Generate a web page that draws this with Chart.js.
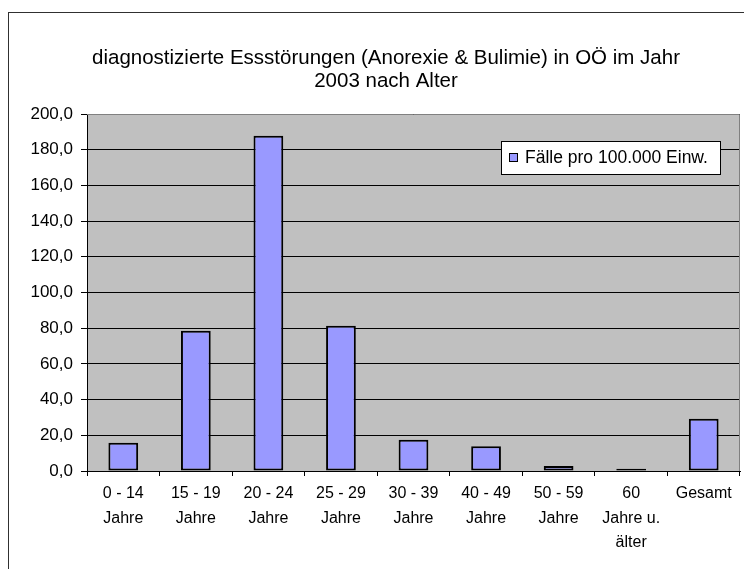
<!DOCTYPE html>
<html>
<head>
<meta charset="utf-8">
<script src="https://cdn.jsdelivr.net/npm/chart.js@4"></script>
<style>
  body { margin: 0; background: #fff; }
  canvas { display: block; }
</style>
</head>
<body>
<canvas id="essChart" width="744" height="569"></canvas>
<script>
const categories = [
    ['0 - 14', 'Jahre'],
    ['15 - 19', 'Jahre'],
    ['20 - 24', 'Jahre'],
    ['25 - 29', 'Jahre'],
    ['30 - 39', 'Jahre'],
    ['40 - 49', 'Jahre'],
    ['50 - 59', 'Jahre'],
    ['60', 'Jahre u.', 'älter'],
    'Gesamt'
];
const faelle = [15.8, 78.6, 187.8, 81.4, 17.5, 13.8, 2.8, 1.2, 29.3];
const seriesName = 'Fälle pro 100.000 Einw.';
const titleLines = ['diagnostizierte Essstörungen (Anorexie & Bulimie) in OÖ im Jahr', '2003 nach Alter'];

const FONT = '"Liberation Sans", Arial, sans-serif';

// grey plot area, outer frame, title and legend box
const decor = {
    id: 'decor',
    beforeDraw(chart) {
        const ctx = chart.ctx;
        const a = chart.chartArea;
        ctx.save();
        ctx.fillStyle = '#c0c0c0';
        ctx.fillRect(a.left, a.top, a.right - a.left, a.bottom - a.top);
        ctx.restore();
    },
    afterDraw(chart) {
        const ctx = chart.ctx;
        const a = chart.chartArea;
        ctx.save();
        // plot border (top/right grey)
        ctx.strokeStyle = '#808080';
        ctx.lineWidth = 1;
        ctx.beginPath();
        ctx.moveTo(a.left, a.top + 0.5);
        ctx.lineTo(a.right - 0.5, a.top + 0.5);
        ctx.lineTo(a.right - 0.5, a.bottom);
        ctx.stroke();

        // outer frame
        ctx.strokeStyle = '#303030';
        ctx.strokeRect(8.5, 12.5, 800, 600);

        // title
        ctx.fillStyle = '#000';
        ctx.font = '20.5px ' + FONT;
        ctx.textAlign = 'center';
        ctx.textBaseline = 'middle';
        ctx.fillText(titleLines[0], 386, 58);
        ctx.fillText(titleLines[1], 386, 81);

        // legend box
        ctx.fillStyle = '#fff';
        ctx.fillRect(501, 141, 220, 34);
        ctx.strokeStyle = '#000';
        ctx.strokeRect(501.5, 141.5, 219, 33);
        ctx.fillStyle = '#9999ff';
        ctx.fillRect(509, 153, 9, 9);
        ctx.strokeRect(509.5, 153.5, 8, 8);
        ctx.fillStyle = '#000';
        ctx.font = '17.5px ' + FONT;
        ctx.textAlign = 'left';
        ctx.fillText(chart.data.datasets[0].label, 525, 158);
        ctx.restore();
    }
};

const ctx = document.getElementById('essChart').getContext('2d');
new Chart(ctx, {
    type: 'bar',
    data: {
        labels: categories,
        datasets: [{
            label: seriesName,
            data: faelle,
            backgroundColor: '#9999ff',
            borderColor: '#000',
            borderWidth: 2,
            borderSkipped: false,
            categoryPercentage: 1,
            barPercentage: 0.41
        }]
    },
    options: {
        responsive: false,
        animation: false,
        layout: { padding: { top: 114, right: 4, left: 0, bottom: 0 } },
        plugins: {
            legend: { display: false },
            title: { display: false },
            tooltip: { enabled: false }
        },
        scales: {
            x: {
                afterFit: (scale) => { scale.height = 98; },
                border: { color: '#000', width: 1 },
                grid: {
                    offset: true,
                    drawOnChartArea: false,
                    drawTicks: true,
                    tickLength: 5,
                    color: '#000'
                },
                ticks: {
                    color: '#000',
                    padding: 5,
                    maxRotation: 0,
                    autoSkip: false,
                    font: { family: FONT, size: 16, lineHeight: 1.55 }
                }
            },
            y: {
                min: 0,
                max: 200,
                afterFit: (scale) => { scale.width = 87; },
                border: { color: '#000', width: 1 },
                grid: {
                    color: '#000',
                    tickLength: 6,
                    drawTicks: true
                },
                ticks: {
                    stepSize: 20,
                    color: '#000',
                    padding: 8,
                    font: { family: FONT, size: 17 },
                    callback: (v) => v.toFixed(1).replace('.', ',')
                }
            }
        }
    },
    plugins: [decor]
});
</script>
</body>
</html>
